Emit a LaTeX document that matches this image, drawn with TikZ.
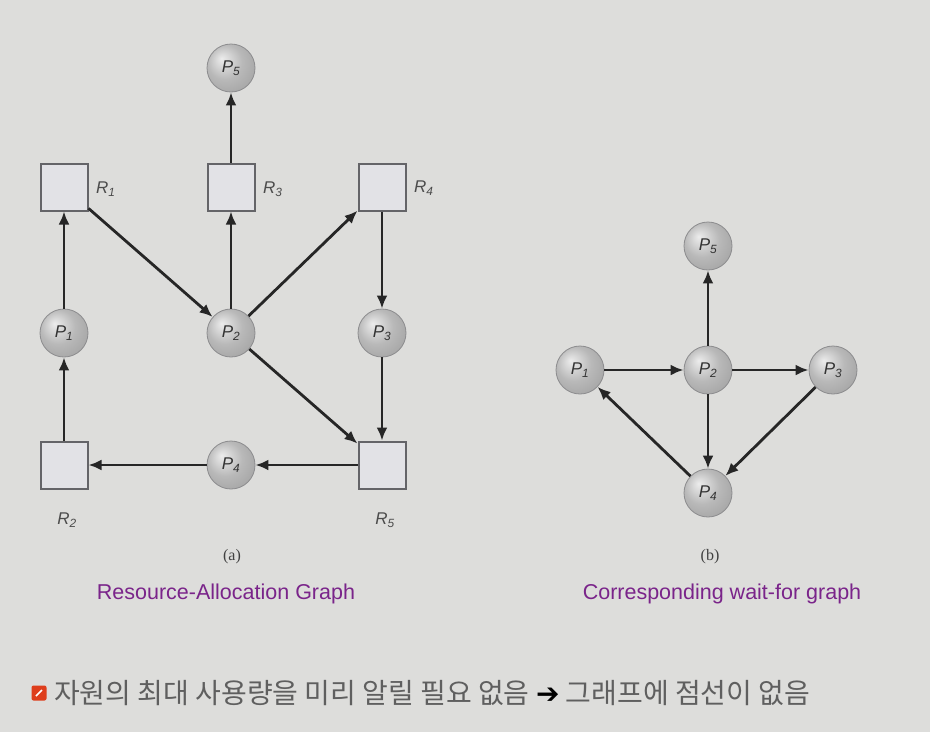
\documentclass[tikz,border=0pt]{standalone}
\usepackage{fontspec}
\setmainfont{Liberation Serif}
\setsansfont{Liberation Sans}
\newfontfamily\krfont{Noto Sans CJK KR}
\newfontfamily\symfont{DejaVu Sans}
\usetikzlibrary{arrows.meta, positioning}
\definecolor{bggray}{RGB}{221,221,219}
\definecolor{boxfill}{RGB}{226,226,230}
\definecolor{boxline}{RGB}{100,100,104}
\definecolor{ballrim}{RGB}{140,140,142}
\definecolor{capurple}{RGB}{122,36,138}
\definecolor{krgray}{RGB}{95,95,95}
\definecolor{iconred}{RGB}{222,62,28}
\pgfdeclareradialshading{procball}{\pgfpoint{-10bp}{10bp}}{%
  color(0bp)=(white!85!gray); color(18bp)=(gray!55); color(32bp)=(gray!70);
  color(50bp)=(gray!82)}

\begin{document}
\begin{tikzpicture}[
    x=1pt, y=-1pt,
    proc/.style={circle, shading=procball, draw=ballrim, line width=0.8pt, minimum size=48pt, inner sep=0pt, font=\sffamily\itshape\fontsize{17}{17}\selectfont, text=black!80},
    res/.style={rectangle, fill=boxfill, draw=boxline, line width=2pt, minimum size=47pt, inner sep=0pt},
    rlbl/.style={font=\sffamily\itshape\fontsize{17}{17}\selectfont, text=black!70},
    arrow/.style={-{Latex[length=13pt, width=11pt]}, line width=2.8pt, black!85},
    sub/.style={font=\rmfamily\fontsize{16}{16}\selectfont, text=black!75},
    figcaption/.style={font=\sffamily\fontsize{21.5}{21.5}\selectfont, text=capurple},
]
    \useasboundingbox[fill=bggray] (0,0) rectangle (930,732);

    % Resource-allocation graph (left)
    \node[proc] (p5) at (231,68) {P\textsubscript{5}};
    \node[res] (r1) at (64,187) {};
    \node[res] (r3) at (231,187) {};
    \node[res] (r4) at (382,187) {};
    \node[proc] (p1) at (64,333) {P\textsubscript{1}};
    \node[proc] (p2) at (231,333) {P\textsubscript{2}};
    \node[proc] (p3) at (382,333) {P\textsubscript{3}};
    \node[res] (r2) at (64,465) {};
    \node[proc] (p4) at (231,465) {P\textsubscript{4}};
    \node[res] (r5) at (382,465) {};

    \node[rlbl, right=4pt of r1, yshift=-2pt] {R\textsubscript{1}};
    \node[rlbl, right=4pt of r3, yshift=-2pt] {R\textsubscript{3}};
    \node[rlbl, right=4pt of r4, yshift=-1pt] {R\textsubscript{4}};
    \node[rlbl, below=20pt of r2, xshift=3pt] {R\textsubscript{2}};
    \node[rlbl, below=20pt of r5, xshift=3pt] {R\textsubscript{5}};

    \draw[arrow] (p1) -- (r1);
    \draw[arrow] (r1) -- (p2);
    \draw[arrow] (p2) -- (r3);
    \draw[arrow] (r3) -- (p5);
    \draw[arrow] (p2) -- (r4);
    \draw[arrow] (r4) -- (p3);
    \draw[arrow] (p3) -- (r5);
    \draw[arrow] (p2) -- (r5);
    \draw[arrow] (r5) -- (p4);
    \draw[arrow] (p4) -- (r2);
    \draw[arrow] (r2) -- (p1);

    \node[sub] (suba) at (232,557) {(a)};
    \node[figcaption] (capa) at (226,594) {Resource-Allocation Graph};

    % Wait-for graph (right)
    \node[proc] (w5) at (708,246) {P\textsubscript{5}};
    \node[proc] (w1) at (580,370) {P\textsubscript{1}};
    \node[proc] (w2) at (708,370) {P\textsubscript{2}};
    \node[proc] (w3) at (833,370) {P\textsubscript{3}};
    \node[proc] (w4) at (708,493) {P\textsubscript{4}};

    \draw[arrow] (w1) -- (w2);
    \draw[arrow] (w2) -- (w3);
    \draw[arrow] (w2) -- (w5);
    \draw[arrow] (w2) -- (w4);
    \draw[arrow] (w3) -- (w4);
    \draw[arrow] (w4) -- (w1);

    \node[sub] (subb) at (710,557) {(b)};
    \node[figcaption] (capb) at (722,594) {Corresponding wait-for graph};

    % Bottom note
    \node[rectangle, rounded corners=2pt, fill=iconred, minimum size=15pt, inner sep=0pt] (bullet) at (39,693) {};
    \draw[white, line width=1.6pt] ([shift={(-3pt,-3pt)}]bullet.center) -- ([shift={(3pt,3pt)}]bullet.center);
    \node[anchor=west, font=\krfont\fontsize{28}{28}\selectfont, text=krgray, inner sep=0pt] (note) at (54,693)
      {자원의 최대 사용량을 미리 알릴 필요 없음 {\symfont\color{black}➔} 그래프에 점선이 없음};
\end{tikzpicture}
\end{document}
